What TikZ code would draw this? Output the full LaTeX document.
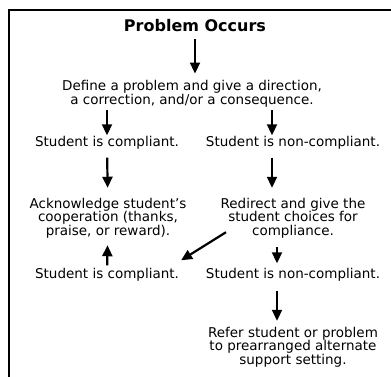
\documentclass[tikz,border=0pt]{standalone}
\usepackage{fontspec}
\setmainfont{DejaVu Sans}
\usepackage{tikz}
\usetikzlibrary{arrows.meta}

\begin{document}
\begin{tikzpicture}[
    x=1pt, y=-1pt,
    txt/.style={inner sep=0pt, align=center, font=\fontsize{13.5}{13.5}\selectfont},
    arrow/.style={line width=2.2pt, -{Triangle[width=10pt,length=11pt]}}
]
\useasboundingbox (0,0) rectangle (391,377);
% frame on the top and left edge
\draw[line width=1.3pt] (391,10) -- (9,10) -- (9,377);

\node[txt, font=\fontsize{16}{16}\selectfont\bfseries] (title) at (195,26) {Problem Occurs};
\node[txt] (define) at (192,94) {Define a problem and give a direction,\\a correction, and/or a consequence.};
\node[txt] (compl) at (107,143) {Student is compliant.};
\node[txt] (noncompl) at (293,143) {Student is non-compliant.};
\node[txt] (ack) at (108,218) {Acknowledge student's\\cooperation (thanks,\\praise, or reward).};
\node[txt] (redirect) at (293,218) {Redirect and give the\\student choices for\\compliance.};
\node[txt] (compl2) at (107,275) {Student is compliant.};
\node[txt] (noncompl2) at (293,275) {Student is non-compliant.};
\node[txt] (refer) at (293,347) {Refer student or problem\\to prearranged alternate\\support setting.};

\draw[arrow, shorten <=7pt, shorten >=7pt] (title) -- (title |- define.north);
\draw[arrow, shorten <=3pt, shorten >=1pt] (define.south -| compl) -- (compl);
\draw[arrow, shorten <=3pt, shorten >=1pt] ([xshift=-21pt]noncompl.north |- define.south) -- ([xshift=-21pt]noncompl.north);
\draw[arrow, shorten <=8pt, shorten >=10pt] (compl) -- (ack);
\draw[arrow, shorten <=8pt, shorten >=10pt] ([xshift=-21pt]noncompl.south) -- ([xshift=-21pt]noncompl.south |- redirect.north);
\draw[arrow, shorten <=3pt, shorten >=7pt] (compl2) -- (ack);
\draw[arrow, shorten <=9pt, shorten >=5pt] ([xshift=-16pt]redirect.south) -- ([xshift=-16pt]redirect.south |- noncompl2.north);
\draw[arrow] ([xshift=-67pt,yshift=6pt]redirect.south) -- ([xshift=2pt,yshift=8pt]compl2.north east);
\draw[arrow, shorten <=9pt, shorten >=6pt] ([xshift=-16pt]noncompl2.south) -- ([xshift=-16pt]noncompl2.south |- refer.north);
\end{tikzpicture}
\end{document}
